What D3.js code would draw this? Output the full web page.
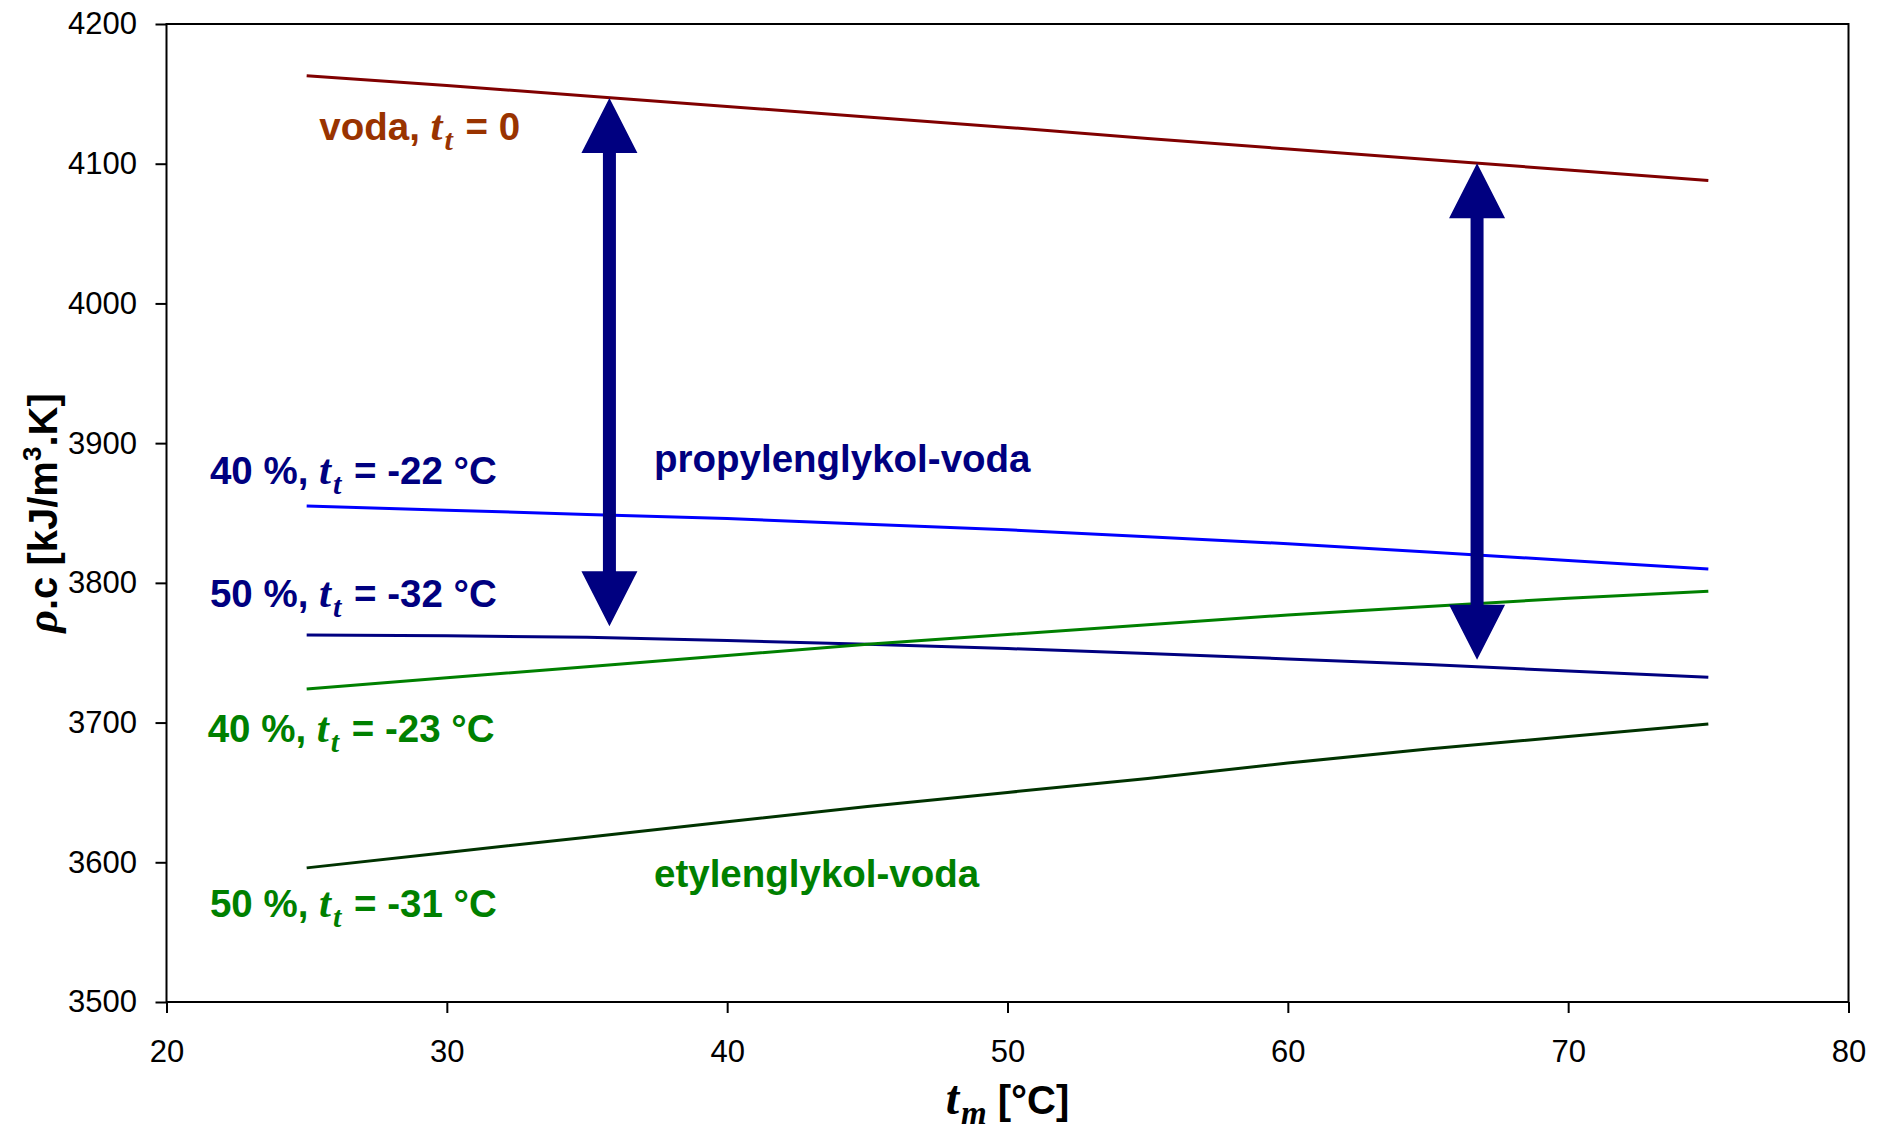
<!DOCTYPE html>
<html>
<head>
<meta charset="utf-8">
<script src="https://cdn.jsdelivr.net/npm/d3@7"></script>
<style>
  body { margin: 0; background: #fff; }
  svg { display: block; }
</style>
</head>
<body>
<svg id="chart" width="1881" height="1132"></svg>
<script>
// Mean temperature of the heat-transfer fluid [°C]
const temps = [25, 30, 35, 40, 45, 50, 55, 60, 65, 70, 75];

// Volumetric heat capacity rho*c [kJ/m3.K]
const vodaValues = [4163, 4156, 4148.5, 4141, 4133.5, 4126, 4118, 4110.5, 4103, 4095.5, 4088];
const pg40Values = [3855, 3852, 3849, 3846, 3842, 3838, 3833, 3828, 3822, 3816, 3810];
const pg50Values = [3762.6, 3762.2, 3761, 3758.7, 3756, 3753, 3749.5, 3745.5, 3741.5, 3737, 3732.5];
const eg40Values = [3724, 3732, 3740, 3748, 3756, 3763, 3770, 3777, 3783, 3789, 3794];
const eg50Values = [3596, 3607, 3618, 3629, 3640, 3650, 3660, 3671, 3681, 3690, 3699];

// Axis ticks
const xTicks = [20, 30, 40, 50, 60, 70, 80];
const yTicks = [3500, 3600, 3700, 3800, 3900, 4000, 4100, 4200];

// Double arrows showing the drop from water to the glycol mixtures
const arrowSpans = [
  { t: 35.8, from: 4147, to: 3769 },
  { t: 66.75, from: 4100.4, to: 3745 }
];

// Curve labels: text before the subscripted t, and after it
const labelPrefixes = ["voda, ", "40 %, ", "50 %, ", "40 %, ", "50 %, "];
const labelSuffixes = [" = 0", " = -22 °C", " = -32 °C", " = -23 °C", " = -31 °C"];
const groupNames = ["propylenglykol-voda", "etylenglykol-voda"];

const W = 1881, H = 1132;
const margin = { left: 166.5, top: 24, right: 32.5, bottom: 130 };
const svg = d3.select("#chart");

const x = d3.scaleLinear().domain([20, 80]).range([margin.left, W - margin.right]);
const y = d3.scaleLinear().domain([3500, 4200]).range([H - margin.bottom, margin.top]);

const SANS = "'Liberation Sans', Arial, sans-serif";
const SERIF = "'Liberation Serif', 'Times New Roman', serif";

// Plot frame
svg.append("rect")
  .attr("x", x(20)).attr("y", y(4200))
  .attr("width", x(80) - x(20)).attr("height", y(3500) - y(4200))
  .attr("fill", "none").attr("stroke", "#000").attr("stroke-width", 2);

// Axes
const yAxis = svg.append("g")
  .attr("transform", `translate(${x(20)},0)`)
  .call(d3.axisLeft(y).tickValues(yTicks).tickSize(11).tickPadding(18.5).tickFormat(d3.format("d")));
const xAxis = svg.append("g")
  .attr("transform", `translate(0,${y(3500)})`)
  .call(d3.axisBottom(x).tickValues(xTicks).tickSize(11).tickPadding(26.5).tickFormat(d3.format("d")));
[xAxis, yAxis].forEach(g => {
  g.select(".domain").remove();
  g.selectAll(".tick line").attr("stroke", "#000").attr("stroke-width", 2);
  g.selectAll(".tick text").attr("fill", "#000").style("font-family", SANS).style("font-size", "31px");
});

// Curves
const series = [
  { values: vodaValues, color: "#800000" },
  { values: pg40Values, color: "#0000FF" },
  { values: pg50Values, color: "#000080" },
  { values: eg40Values, color: "#008000" },
  { values: eg50Values, color: "#003300" }
];
const line = d3.line().x(d => x(d[0])).y(d => y(d[1]));
svg.append("g").selectAll("path")
  .data(series)
  .join("path")
  .attr("d", s => line(temps.map((t, i) => [t, s.values[i]])))
  .attr("fill", "none")
  .attr("stroke", s => s.color)
  .attr("stroke-width", 3);

// Double-headed arrows
const headLen = 55, headHalf = 28, shaftHalf = 6.5;
svg.append("g").selectAll("path")
  .data(arrowSpans)
  .join("path")
  .attr("d", a => {
    const cx = x(a.t), y0 = y(a.from), y1 = y(a.to);
    return [
      `M${cx},${y0}`,
      `L${cx + headHalf},${y0 + headLen}`,
      `L${cx + shaftHalf},${y0 + headLen}`,
      `L${cx + shaftHalf},${y1 - headLen}`,
      `L${cx + headHalf},${y1 - headLen}`,
      `L${cx},${y1}`,
      `L${cx - headHalf},${y1 - headLen}`,
      `L${cx - shaftHalf},${y1 - headLen}`,
      `L${cx - shaftHalf},${y0 + headLen}`,
      `L${cx - headHalf},${y0 + headLen}`,
      "Z"
    ].join("");
  })
  .attr("fill", "#000080");

// Curve labels with italic t and subscript t
const labelAnchors = [
  { t: 25.45, v: 4117, color: "#993300" },
  { t: 21.55, v: 3871, color: "#000080" },
  { t: 21.55, v: 3783, color: "#000080" },
  { t: 21.47, v: 3686, color: "#008000" },
  { t: 21.55, v: 3561, color: "#008000" }
];
labelAnchors.forEach((a, i) => {
  const txt = svg.append("text")
    .attr("x", x(a.t)).attr("y", y(a.v))
    .attr("fill", a.color)
    .style("font-family", SANS).style("font-weight", "bold").style("font-size", "38.5px");
  txt.append("tspan").text(labelPrefixes[i]);
  txt.append("tspan").text("t")
    .style("font-family", SERIF).style("font-style", "italic").style("font-size", "43px");
  txt.append("tspan").text("t").attr("dy", 10).attr("dx", 2)
    .style("font-family", SERIF).style("font-style", "italic").style("font-size", "30px");
  txt.append("tspan").text(labelSuffixes[i]).attr("dy", -10).attr("dx", 2);
});

// Group names
const groupAnchors = [
  { t: 37.39, v: 3879, color: "#000080" },
  { t: 37.39, v: 3582, color: "#008000" }
];
groupAnchors.forEach((a, i) => {
  svg.append("text")
    .attr("x", x(a.t)).attr("y", y(a.v))
    .attr("fill", a.color)
    .style("font-family", SANS).style("font-weight", "bold").style("font-size", "38.5px")
    .text(groupNames[i]);
});

// X axis title: t_m [°C]
const xt = svg.append("text")
  .attr("x", (x(20) + x(80)) / 2).attr("y", 1114)
  .attr("text-anchor", "middle").attr("fill", "#000")
  .style("font-family", SANS).style("font-weight", "bold").style("font-size", "40px");
xt.append("tspan").text("t")
  .style("font-family", SERIF).style("font-style", "italic").style("font-size", "48px");
xt.append("tspan").text("m").attr("dy", 10).attr("dx", 2)
  .style("font-family", SERIF).style("font-style", "italic").style("font-size", "33px");
xt.append("tspan").text(" [°C]").attr("dy", -10);

// Y axis title: rho.c [kJ/m3.K]
const yt = svg.append("text")
  .attr("transform", `translate(57,${(y(3500) + y(4200)) / 2}) rotate(-90)`)
  .attr("text-anchor", "middle").attr("fill", "#000")
  .style("font-family", SANS).style("font-weight", "bold").style("font-size", "40px");
yt.append("tspan").text("ρ")
  .style("font-family", SERIF).style("font-style", "italic").style("font-size", "44px");
yt.append("tspan").text(".c [kJ/m");
yt.append("tspan").text("3").attr("dy", -16).style("font-size", "26px");
yt.append("tspan").text(".K]").attr("dy", 16);
</script>
</body>
</html>
